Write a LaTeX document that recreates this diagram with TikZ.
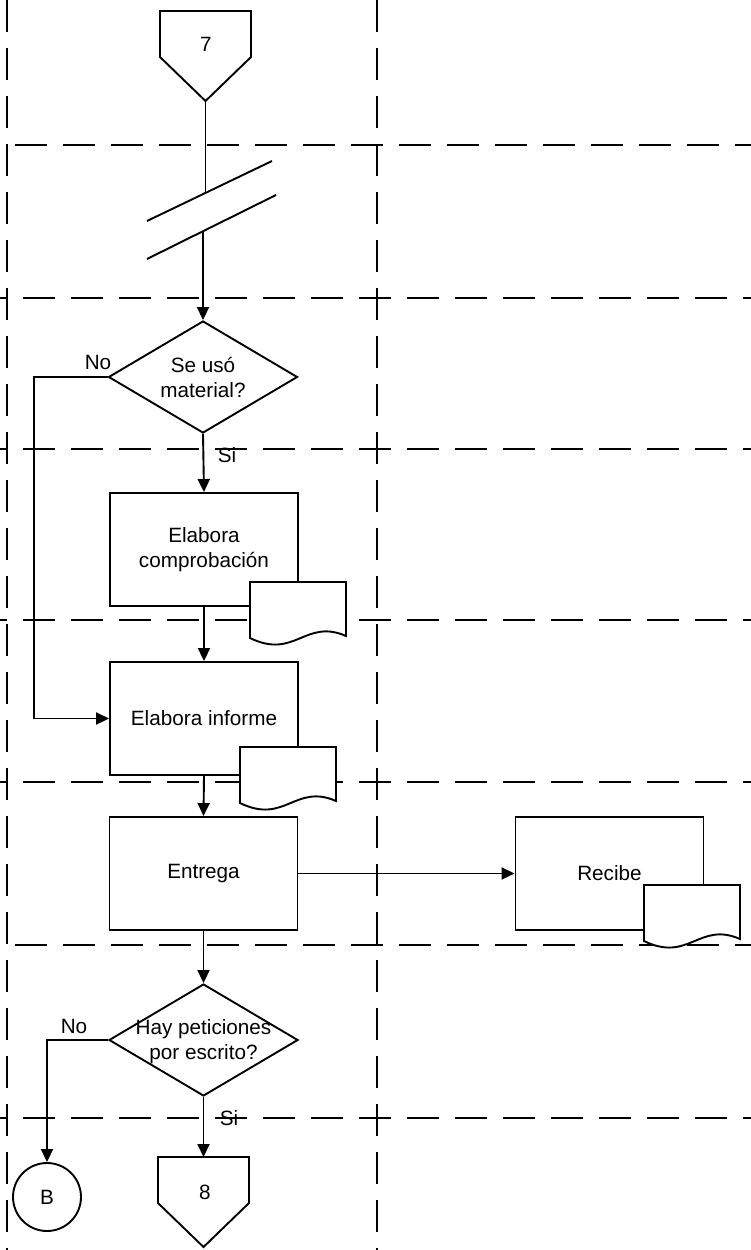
\documentclass[tikz,border=0pt]{standalone}
\usepackage{fontspec}
\setmainfont{Liberation Sans}
\usetikzlibrary{arrows.meta,shapes.geometric}
\begin{document}
\begin{tikzpicture}[x=1pt,y=-1pt,line width=1.9pt,
  font=\fontsize{20.7}{25}\selectfont,
  lane/.style={dash pattern=on 32pt off 16pt,line width=1.8pt},
  box/.style={draw,fill=white,rectangle,minimum width=188pt,minimum height=113pt,inner sep=0pt,align=center},
  dec/.style={draw,fill=white,diamond,minimum width=189pt,minimum height=112pt,inner sep=0pt},
  txt/.style={align=center,inner sep=0pt},
  conn/.style={draw,fill=white,circle,minimum size=68pt,inner sep=0pt},
  arr/.style={-{Triangle[length=13pt,width=12pt]}},
  docu/.pic={\draw[fill=white] (0,0) -- (96,0) -- (96,54) .. controls (55,36) and (45,78) .. (0,56) -- cycle;}
]
\useasboundingbox (0,0) rectangle (751,1250);
% swimlanes
\draw[lane] (7,0) -- (7,1250);
\draw[lane] (377,0) -- (377,1250);
\draw[lane] (15,145) -- (751,145);
\draw[lane,dash phase=25pt] (0,298) -- (751,298);
\draw[lane,dash phase=25pt] (0,449) -- (751,449);
\draw[lane,dash phase=25pt] (0,620) -- (751,620);
\draw[lane,dash phase=25pt] (0,782) -- (751,782);
\draw[lane] (15,945) -- (751,945);
\draw[lane,dash phase=25pt] (0,1118) -- (751,1118);

% off-page connector 7
\draw[fill=white] (160,11) -- (251,11) -- (251,57) -- (205.5,101) -- (160,57) -- cycle;
\node[txt] (n7) at (206,44) {7};
\coordinate (p7tip) at (205.5,101);

% break symbol
\coordinate (s1a) at (147,221); \coordinate (s1b) at (272,161);
\coordinate (s2a) at (147,259); \coordinate (s2b) at (276,195);
\draw (s1a) -- (s1b);
\draw (s2a) -- (s2b);
\coordinate (a1) at (205.5,193);
\coordinate (a2) at (203,231);

% decision 1
\node[dec] (d1) at (203,377) {};
\node[txt] (t1) at (d1) {Se usó\\material?};

% boxes
\node[box] (b1) at (204,549.5) {Elabora\\comprobación};
\node[box] (b2) at (204,718.5) {Elabora informe};
\node[box] (b3) at (203.5,873.5) {Entrega};
\node[box] (b4) at (609.5,873.5) {Recibe};

% documents
\pic at (250,582) {docu};
\pic at (240,747) {docu};
\pic at (644,885) {docu};

% decision 2
\node[dec] (d2) at (203.5,1040) {};
\node[txt] (t2) at (203.5,1042) {Hay peticiones\\por escrito?};

% connector B
\node[conn] (cB) at (47,1197) {B};

% off-page connector 8
\draw[fill=white] (158,1157) -- (249,1157) -- (249,1203) -- (203.5,1247) -- (158,1203) -- cycle;
\node[txt] (n8) at (205,1192) {8};
\coordinate (p8top) at (203.5,1157);

% connectors
\draw (p7tip) -- (a1);
\draw[arr] (a2) -- (d1.north);
\coordinate (k1) at (34,377);
\draw[arr] (d1.west) -- (k1) |- (b2.west);
\draw[arr] (d1.south) -- (b1.north);
\draw[arr] (b1.south) -- (b2.north);
\draw[arr] (b2.south) -- (b3.north);
\draw[arr] (b3.east) -- (b4.west);
\draw[arr] (b3.south) -- (d2.north);
\coordinate (k2) at (47,1040);
\draw[arr] (d2.west) -- (k2) -- (cB.north);
\draw[arr] (d2.south) -- (p8top);

% labels
\node[txt] (lno1) at (98,362) {No};
\node[txt] (lsi1) at (227,455) {Si};
\node[txt] (lno2) at (74,1026) {No};
\node[txt] (lsi2) at (229,1118) {Si};
\end{tikzpicture}
\end{document}
